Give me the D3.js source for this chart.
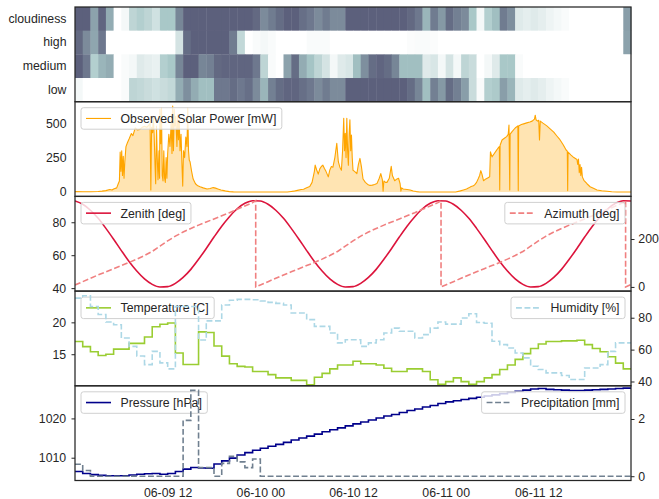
<!DOCTYPE html>
<html><head><meta charset="utf-8">
<script src="https://cdn.jsdelivr.net/npm/d3@7"></script>
<style>
body{margin:0;background:#fff}
text{font-family:"Liberation Sans",Arial,Helvetica,sans-serif}
</style>
</head><body>
<svg id="c" width="659" height="499"></svg>
<script>
// ---------------- DATA ----------------
const cloudRows = ["cloudiness", "high", "medium", "low"];
// hourly cloud cover [%], 06-09 00:00 .. 06-11 23:00
const cloudiness = [95,95,60,92,55,0,5,30,35,30,22,40,40,75,95,95,95,95,95,95,95,95,95,90,
  72,80,88,95,95,87,82,72,80,72,72,95,95,95,95,95,95,95,95,90,82,50,80,65,
  88,78,72,40,5,35,45,80,70,15,12,15,12,8,5,3,0,0,0,0,0,0,0,62];
const cloudHigh = [90,72,58,82,0,0,0,0,0,0,0,0,0,20,88,95,95,95,95,95,80,28,0,3,
  5,3,0,0,0,0,3,3,3,0,0,0,0,0,0,0,0,0,0,2,3,3,2,0,
  0,0,0,0,0,0,0,0,0,0,0,0,0,0,0,0,0,0,0,0,0,0,0,60];
const cloudMedium = [95,82,35,50,55,0,3,5,15,12,10,35,40,75,95,95,75,78,90,92,92,92,92,82,
  30,3,0,60,88,55,42,30,20,5,15,18,45,70,88,92,88,75,45,45,45,15,18,5,
  20,5,30,25,0,5,15,40,40,3,0,0,0,0,0,0,0,0,0,0,0,0,0,0];
const cloudLow = [5,0,0,0,0,0,3,30,28,25,22,25,28,55,70,55,45,45,82,82,88,82,87,72,
  50,78,88,92,92,87,82,72,80,72,72,95,95,95,95,95,95,95,95,88,75,45,78,65,
  88,78,62,25,3,35,38,62,50,15,12,15,12,8,5,3,0,0,0,0,0,0,0,0];

// observed solar power: hours since 06-09 00:00 and power [mW]
const solarHours = [0,1,2,3,3.5,4,4.5,4.8,5.0,5.4,5.6,5.75,5.85,5.95,6.05,6.15,6.25,6.35,6.45,6.6,6.8,7.0,7.3,7.5,7.8,8.1,8.4,8.7,9.0,9.3,9.6,9.72,9.82,9.92,
  10.05,10.14,10.25,10.36,10.45,10.55,10.65,10.75,10.88,10.95,11.0,11.1,11.2,11.3,11.4,11.5,11.6,11.7,11.8,11.9,12.0,12.15,12.3,12.45,12.56,12.65,12.75,12.85,12.95,
  13.05,13.2,13.3,13.4,13.5,13.6,13.73,13.85,13.95,14.05,14.2,14.35,14.5,14.6,14.7,14.8,14.9,15.1,15.3,15.6,15.9,16.2,16.6,17.1,17.5,17.9,18.2,18.5,18.9,19.3,19.6,20.0,20.5,21,
  27.5,28.0,28.3,28.8,29.3,29.6,30.0,30.4,30.7,31.0,31.1,31.3,31.5,31.7,31.9,32.1,32.3,32.5,32.8,33.0,33.2,33.4,33.65,33.9,34.1,34.3,34.5,34.65,34.8,34.9,
  35.0,35.1,35.2,35.3,35.4,35.5,35.6,35.7,35.8,35.9,36.0,36.2,36.5,36.7,36.9,37.1,37.3,37.6,37.9,38.2,38.5,38.8,39.1,39.4,39.6,39.8,39.9,40.0,40.2,40.4,40.7,40.95,
  41.1,41.4,41.7,41.9,42.1,42.2,42.3,42.5,43.0,43.4,43.8,44.2,44.6,
  49.3,49.9,50.3,50.7,51.0,51.3,51.6,51.8,52.0,52.2,52.4,52.55,52.7,52.9,53.2,53.5,53.7,53.8,54.0,54.3,54.6,54.8,54.95,55.0,55.05,55.3,55.6,55.9,56.1,56.2,56.3,56.35,56.6,
  57.0,57.35,57.4,57.45,57.8,58.1,58.5,58.9,59.2,59.5,59.6,59.7,59.9,60.05,60.15,60.25,60.6,61.1,61.6,62.0,62.4,62.8,63.2,63.6,63.75,63.8,63.85,64.2,64.6,
  65.0,65.1,65.2,65.3,65.4,65.5,65.6,65.7,65.9,66.3,66.7,67.2,67.6,68.2,68.9,69.5,70.2,72];
const solarMW = [3,2,2,4,6,10,18,14,22,30,60,80,290,150,300,120,260,100,220,330,360,385,425,410,465,450,455,470,478,470,490,500,15,470,
  430,548,420,200,60,480,250,90,300,100,600,350,610,120,80,300,100,70,250,100,280,420,330,500,280,625,300,600,480,
  550,330,560,380,520,300,420,200,43,300,250,400,330,610,300,230,219,150,94,60,45,38,30,22,25,32,28,22,14,10,6,3,1,0,
  0,4,6,12,18,20,30,40,70,150,195,160,130,168,185,195,170,150,110,160,185,180,250,354,220,180,158,300,536,300,
  427,250,536,300,195,420,524,300,414,250,158,150,134,200,244,180,94,70,55,48,50,55,61,100,134,90,6,80,70,70,100,187,
  120,82,95,100,60,6,30,22,18,15,7,3,0,
  0,8,15,22,30,40,45,56,70,94,120,155,130,82,95,104,110,292,255,280,304,320,330,15,340,378,390,402,420,487,15,420,439,
  465,480,10,480,490,495,502,509,515,530,558,525,515,521,378,515,500,480,455,435,407,380,345,305,297,10,290,270,250,
  236,200,240,140,200,120,180,110,85,60,38,25,15,9,5,2,0,0];

// hourly solar zenith [deg], hours 0..72
const zenithDeg = [92.9,90.9,87.3,82.4,76.3,69.7,62.8,56.2,50.4,45.6,42.3,40.7,40.9,42.9,46.5,51.4,57.5,64.1,71.0,77.6,83.4,88.2,91.5,93.1,
  92.9,90.9,87.3,82.4,76.3,69.7,62.8,56.2,50.4,45.6,42.3,40.7,40.9,42.9,46.5,51.4,57.5,64.1,71.0,77.6,83.4,88.2,91.5,93.1,
  92.9,90.9,87.3,82.4,76.3,69.7,62.8,56.2,50.4,45.6,42.3,40.7,40.9,42.9,46.5,51.4,57.5,64.1,71.0,77.6,83.4,88.2,91.5,93.1,
  92.9];
// solar azimuth [deg] (hours, values), wraps at solar midnight
const azimuthHours = [0,1,2,3,4,5,6,7,8,9,10,11,12,13,14,15,16,17,18,19,20,21,22,23,23.4,23.4,
  24,25,26,27,28,29,30,31,32,33,34,35,36,37,38,39,40,41,42,43,44,45,46,47,47.4,47.4,
  48,49,50,51,52,53,54,55,56,57,58,59,60,61,62,63,64,65,66,67,68,69,70,71,71.3,71.3,72];
const azimuthDeg = [8,22,36,50,63,76,89,102,116,131,148,170,192,212,229,244,258,271,284,297,310,324,338,352,360,0,
  8,22,36,50,63,76,89,102,116,131,148,170,192,212,229,244,258,271,284,297,310,324,338,352,360,0,
  8,22,36,50,63,76,89,102,116,131,148,170,192,212,229,244,258,271,284,297,310,324,338,352,360,0,10];

// hourly temperature [C]
const temperatureC = [17.0,16.2,15.4,14.8,15.0,15.8,15.8,16.7,16.7,17.7,19.3,19.7,19.9,15.2,13.4,13.4,18.5,18.4,16.3,14.7,13.5,13.1,13.0,12.3,
  12.3,11.8,11.3,11.3,10.9,10.9,10.2,11.4,12.0,12.7,13.3,13.3,13.9,13.5,13.5,13.3,12.8,12.3,12.3,12.7,12.7,12.3,11.0,10.3,
  10.7,11.3,10.7,10.3,10.7,11.3,11.8,12.6,13.3,14.2,15.1,15.9,16.6,17.0,17.0,17.1,17.1,17.2,16.5,15.9,15.4,14.6,13.6,12.7];
// hourly relative humidity [%]
const humidityPct = [92.3,93.8,87,82,77.3,75.6,67.3,62,56,50.6,58.9,51.7,47.9,87,87,87,66,78,78,88,91,91.5,91.5,91.3,
  90.5,89.6,89,88,83,83,78.8,74.6,74.6,70.4,64.2,66.2,66.2,62,64.2,66.2,70.4,73.5,71.5,71.5,67.3,69.4,73.5,77.3,
  76,76,79.8,82.5,77,76.5,65.2,63.1,61,57.9,54.8,49.6,47.5,45.4,45.4,43.75,41.25,41.25,48.5,48.5,50.6,58.9,64.2,64.2];
// hourly pressure [hPa]
const pressureHPa = [1006.5,1006.0,1005.7,1005.5,1005.4,1005.4,1005.4,1005.6,1005.8,1005.9,1006.0,1005.8,1006.0,1006.5,1007.1,1007.5,1007.4,1007.3,1008.4,1009.2,1009.9,1010.7,1011.3,1011.9,
  1012.4,1012.9,1013.4,1013.9,1014.5,1015.0,1015.5,1016.0,1016.6,1017.1,1017.6,1018.1,1018.6,1019.1,1019.6,1020.1,1020.6,1021.0,1021.5,1022.0,1022.4,1022.9,1023.3,1023.8,
  1024.2,1024.5,1024.8,1025.1,1025.4,1025.7,1026.0,1026.3,1026.6,1026.9,1027.2,1027.5,1027.6,1027.4,1027.3,1027.2,1027.1,1027.1,1027.2,1027.3,1027.4,1027.5,1027.6,1027.7];
// hourly precipitation [mm]
const precipMM = [0.42,0.2,0,0,0,0,0,0,0,0,0,0,0,0,1.95,3.0,0.3,0.3,0,0.45,0.7,0.5,0.3,0.6,
  0,0,0,0,0,0,0,0,0,0,0,0,0,0,0,0,0,0,0,0,0,0,0,0,
  0,0,0,0,0,0,0,0,0,0,0,0,0,0,0,0,0,0,0,0,0,0,0,0];

const xTickHours = [12, 24, 36, 48, 60];
const solarTicks = [0, 250, 500];
const zenithTicks = [40, 60, 80];
const azimuthTicks = [0, 200];
const tempTicks = [15, 20];
const humTicks = [40, 60, 80];
const pressTicks = [1010, 1020];
const precipTicks = [0, 2];

// ---------------- LAYOUT ----------------
const FONT = '"Liberation Sans",Arial,Helvetica,sans-serif';
const FS = "12.3px";
const INK = "#262626";
const L = 75, R = 631;
const tops = [7, 101.7, 196.4, 291.1, 385.8];
const PH = 94.7;
const svg = d3.select("#c");
const start = new Date(2020, 5, 9, 0, 0);
const hd = h => new Date(start.getTime() + h * 3600e3);
const x = d3.scaleTime().domain([hd(0), hd(72)]).range([L, R]);
const fmt = d3.format("d");

const defs = svg.append("defs");
tops.forEach((t, i) => {
  defs.append("clipPath").attr("id", "clip" + i).append("rect")
    .attr("x", L).attr("y", t).attr("width", R - L).attr("height", PH);
});

function styleAxis(g) {
  g.select(".domain").remove();
  g.selectAll(".tick line").attr("stroke", INK).attr("stroke-width", 1);
  g.selectAll(".tick text").attr("fill", INK).style("font-size", FS).style("font-family", FONT);
}

function legend(g, side, top, label, stroke, dash, width) {
  const lg = g.append("g");
  const rect = lg.append("rect");
  const txt = lg.append("text").text(label).attr("fill", INK).style("font-size", FS).style("font-family", FONT);
  const tw = txt.node().getComputedTextLength();
  const bw = tw + 45, bh = 21.5;
  const bx = side === "left" ? 81 : 625 - bw;
  const by = top + 6;
  rect.attr("x", bx).attr("y", by).attr("width", bw).attr("height", bh).attr("rx", 2.5)
    .attr("fill", "#fff").attr("fill-opacity", 0.8).attr("stroke", "#d0d0d0").attr("stroke-width", 1);
  lg.append("line").attr("x1", bx + 5).attr("x2", bx + 30).attr("y1", by + bh / 2).attr("y2", by + bh / 2)
    .attr("stroke", stroke).attr("stroke-width", width).attr("stroke-dasharray", dash);
  txt.attr("x", bx + 39.5).attr("y", by + bh / 2 + 4.4);
}

// bone colormap (reversed, truncated)
const boneR = d3.scaleLinear().domain([0, 0.746032, 1]).range([0, 0.652778, 1]);
const boneG = d3.scaleLinear().domain([0, 0.365079, 0.746032, 1]).range([0, 0.319444, 0.777778, 1]);
const boneB = d3.scaleLinear().domain([0, 0.365079, 1]).range([0, 0.444444, 1]);
const cloudPos = d3.scaleLinear().domain([0, 100]).range([1, 0.38]);
function cloudColor(v) {
  const p = cloudPos(v);
  return d3.rgb(boneR(p) * 255, boneG(p) * 255, boneB(p) * 255).toString();
}

// ---------------- PANEL 1: heatmap ----------------
const p1 = svg.append("g");
const yBand = d3.scaleBand().domain(cloudRows).range([tops[0], tops[0] + PH]);
const cloudSeries = { cloudiness: cloudiness, high: cloudHigh, medium: cloudMedium, low: cloudLow };
cloudRows.forEach(row => {
  p1.selectAll(null).data(cloudSeries[row]).enter().append("rect")
    .attr("x", (d, i) => x(hd(i)))
    .attr("width", (d, i) => x(hd(i + 1)) - x(hd(i)) + 0.4)
    .attr("y", yBand(row)).attr("height", yBand.bandwidth() + 0.3)
    .attr("fill", d => cloudColor(d));
});
p1.append("g").attr("transform", `translate(${L},0)`)
  .call(d3.axisLeft(yBand).tickSize(0).tickPadding(8.5)).call(styleAxis);

// ---------------- PANEL 2: solar ----------------
const p2 = svg.append("g");
const ySol = d3.scaleLinear().domain([-32, 656]).range([tops[1] + PH, tops[1]]);
const solarPts = solarHours.map((h, i) => [h, solarMW[i]]);
const p2c = p2.append("g").attr("clip-path", "url(#clip1)");
p2c.append("path").datum(solarPts)
  .attr("d", d3.area().x(d => x(hd(d[0]))).y0(ySol(0)).y1(d => ySol(d[1])))
  .attr("fill", "#ffa500").attr("fill-opacity", 0.3);
p2c.append("path").datum(solarPts)
  .attr("d", d3.line().x(d => x(hd(d[0]))).y(d => ySol(d[1])))
  .attr("fill", "none").attr("stroke", "#ffa500").attr("stroke-width", 1.1).attr("stroke-linejoin", "round");
p2.append("g").attr("transform", `translate(${L},0)`)
  .call(d3.axisLeft(ySol).tickValues(solarTicks).tickFormat(fmt).tickSize(0).tickPadding(8.5)).call(styleAxis);
legend(p2, "left", tops[1], "Observed Solar Power [mW]", "#ffa500", null, 1.1);

// ---------------- PANEL 3: zenith / azimuth ----------------
const p3 = svg.append("g");
const yZen = d3.scaleLinear().domain([38.2, 95.7]).range([tops[2] + PH, tops[2]]);
const yAz = d3.scaleLinear().domain([-17.5, 378]).range([tops[2] + PH, tops[2]]);
p3.append("g").attr("clip-path", "url(#clip2)").append("path").datum(zenithDeg)
  .attr("d", d3.line().x((d, i) => x(hd(i))).y(d => yZen(d)).curve(d3.curveMonotoneX))
  .attr("fill", "none").attr("stroke", "#dc143c").attr("stroke-width", 1.6);
legend(p3, "left", tops[2], "Zenith [deg]", "#dc143c", null, 1.6);
const azPts = azimuthHours.map((h, i) => [h, azimuthDeg[i]]);
p3.append("g").attr("clip-path", "url(#clip2)").append("path").datum(azPts)
  .attr("d", d3.line().x(d => x(hd(d[0]))).y(d => yAz(d[1])))
  .attr("fill", "none").attr("stroke", "#f08080").attr("stroke-width", 1.6).attr("stroke-dasharray", "5.9,2.6");
legend(p3, "right", tops[2], "Azimuth [deg]", "#f08080", "5.9,2.6", 1.6);
p3.append("g").attr("transform", `translate(${L},0)`)
  .call(d3.axisLeft(yZen).tickValues(zenithTicks).tickFormat(fmt).tickSize(3.5).tickPadding(5.3)).call(styleAxis);
p3.append("g").attr("transform", `translate(${R},0)`)
  .call(d3.axisRight(yAz).tickValues(azimuthTicks).tickFormat(fmt).tickSize(3.5).tickPadding(3.8)).call(styleAxis);

// ---------------- PANEL 4: temperature / humidity ----------------
const p4 = svg.append("g");
const yTemp = d3.scaleLinear().domain([10.05, 24.9]).range([tops[3] + PH, tops[3]]);
const yHum = d3.scaleLinear().domain([37.3, 96.7]).range([tops[3] + PH, tops[3]]);
const stepPts = arr => arr.map((v, i) => [i, v]).concat([[arr.length, arr[arr.length - 1]]]);
p4.append("g").attr("clip-path", "url(#clip3)").append("path").datum(stepPts(temperatureC))
  .attr("d", d3.line().x(d => x(hd(d[0]))).y(d => yTemp(d[1])).curve(d3.curveStepAfter))
  .attr("fill", "none").attr("stroke", "#9acd32").attr("stroke-width", 1.6);
legend(p4, "left", tops[3], "Temperature [C]", "#9acd32", null, 1.6);
p4.append("g").attr("clip-path", "url(#clip3)").append("path").datum(stepPts(humidityPct))
  .attr("d", d3.line().x(d => x(hd(d[0]))).y(d => yHum(d[1])).curve(d3.curveStepAfter))
  .attr("fill", "none").attr("stroke", "#add8e6").attr("stroke-width", 1.6).attr("stroke-dasharray", "5.9,2.6");
legend(p4, "right", tops[3], "Humidity [%]", "#add8e6", "5.9,2.6", 1.6);
p4.append("g").attr("transform", `translate(${L},0)`)
  .call(d3.axisLeft(yTemp).tickValues(tempTicks).tickFormat(fmt).tickSize(3.5).tickPadding(5.3)).call(styleAxis);
p4.append("g").attr("transform", `translate(${R},0)`)
  .call(d3.axisRight(yHum).tickValues(humTicks).tickFormat(fmt).tickSize(3.5).tickPadding(3.8)).call(styleAxis);

// ---------------- PANEL 5: pressure / precipitation ----------------
const p5 = svg.append("g");
const yPres = d3.scaleLinear().domain([1004.2, 1028.3]).range([tops[4] + PH, tops[4]]);
const yPrec = d3.scaleLinear().domain([-0.15, 3.16]).range([tops[4] + PH, tops[4]]);
p5.append("g").attr("clip-path", "url(#clip4)").append("path").datum(stepPts(pressureHPa))
  .attr("d", d3.line().x(d => x(hd(d[0]))).y(d => yPres(d[1])).curve(d3.curveStepAfter))
  .attr("fill", "none").attr("stroke", "#00008b").attr("stroke-width", 1.6);
legend(p5, "left", tops[4], "Pressure [hPa]", "#00008b", null, 1.6);
p5.append("g").attr("clip-path", "url(#clip4)").append("path").datum(stepPts(precipMM))
  .attr("d", d3.line().x(d => x(hd(d[0]))).y(d => yPrec(d[1])).curve(d3.curveStepAfter))
  .attr("fill", "none").attr("stroke", "#708090").attr("stroke-width", 1.6).attr("stroke-dasharray", "5.9,2.6");
legend(p5, "right", tops[4], "Precipitation [mm]", "#708090", "5.9,2.6", 1.6);
p5.append("g").attr("transform", `translate(${L},0)`)
  .call(d3.axisLeft(yPres).tickValues(pressTicks).tickFormat(fmt).tickSize(3.5).tickPadding(5.3)).call(styleAxis);
p5.append("g").attr("transform", `translate(${R},0)`)
  .call(d3.axisRight(yPrec).tickValues(precipTicks).tickFormat(fmt).tickSize(3.5).tickPadding(3.8)).call(styleAxis);

// x axis
svg.append("g").attr("transform", `translate(0,${tops[4] + PH})`)
  .call(d3.axisBottom(x).tickValues(xTickHours.map(hd)).tickFormat(d3.timeFormat("%m-%d %H")).tickSize(0).tickPadding(8))
  .call(styleAxis);

// spines
tops.forEach(t => {
  svg.append("rect").attr("x", L).attr("y", t).attr("width", R - L).attr("height", PH)
    .attr("fill", "none").attr("stroke", INK).attr("stroke-width", 1.25);
});
</script>
</body></html>
